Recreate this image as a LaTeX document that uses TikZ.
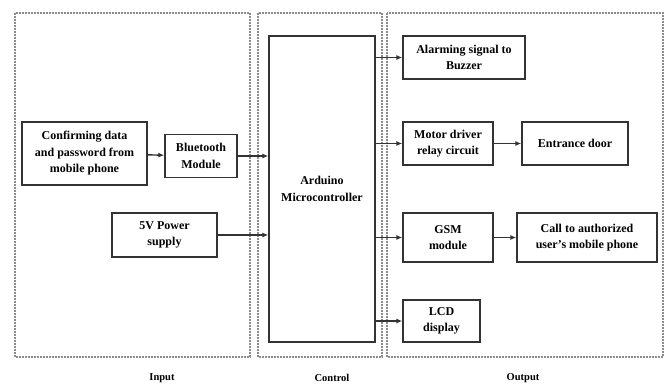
\documentclass[tikz,border=0pt]{standalone}
\usepackage{fontspec}
\setmainfont{Liberation Serif}
\usetikzlibrary{arrows.meta}
\tikzset{
  blk/.style={draw=black!80, line width=1.4pt, align=center, font=\fontsize{12}{16.5}\selectfont\bfseries, inner sep=1pt},
  panel/.style={draw=black!45, dash pattern=on 2pt off 1pt, line width=1.6pt},
  lbl/.style={font=\fontsize{10.5}{12}\selectfont\bfseries},
  conn/.style={-{Latex[length=6pt,width=5pt]}, line width=1.4pt, draw=black!80}
}
\begin{document}
\begin{tikzpicture}[x=1pt,y=-1pt]
\useasboundingbox (0,0) rectangle (665,385);
\draw[panel] (15,13) rectangle (250,357);
\draw[panel] (258,13) rectangle (382,357);
\draw[panel] (387,13) rectangle (663,357);
\node[lbl] (inlbl) at (162,378) {Input};
\node[lbl] (ctllbl) at (332,378) {Control};
\node[lbl] (outlbl) at (523,378) {Output};
\node[blk, minimum width=125, minimum height=63] (conf) at (84.5,153.5) {Confirming data\\and password from\\mobile phone};
\node[blk, minimum width=72, minimum height=43] (bt) at (201,156) {Bluetooth\\Module};
\node[blk, minimum width=105, minimum height=44] (pwr) at (164.5,235) {5V Power\\supply};
\node[blk, minimum width=106, minimum height=306] (ard) at (322,189) {Arduino\\Microcontroller};
\node[blk, minimum width=122, minimum height=43] (alarm) at (464,57.5) {Alarming signal to\\Buzzer};
\node[blk, minimum width=90, minimum height=43] (motor) at (448,143.5) {Motor driver\\relay circuit};
\node[blk, minimum width=106, minimum height=43] (door) at (575,143.5) {Entrance door};
\node[blk, minimum width=90, minimum height=49] (gsm) at (448,237.5) {GSM\\module};
\node[blk, minimum width=140, minimum height=49] (call) at (587,237.5) {Call to authorized\\user's mobile phone};
\node[blk, minimum width=77, minimum height=42] (lcd) at (441.5,321) {LCD\\display};
\draw[conn] (conf) -- (bt);
\draw[conn] (bt.east) -- (bt.east -| ard.west);
\draw[conn] (pwr.east) -- (pwr.east -| ard.west);
\draw[conn] (alarm.west -| ard.east) -- (alarm.west);
\draw[conn] (motor.west -| ard.east) -- (motor.west);
\draw[conn] (gsm.west -| ard.east) -- (gsm.west);
\draw[conn] (lcd.west -| ard.east) -- (lcd.west);
\draw[conn] (motor) -- (door);
\draw[conn] (gsm) -- (call);
\end{tikzpicture}
\end{document}
